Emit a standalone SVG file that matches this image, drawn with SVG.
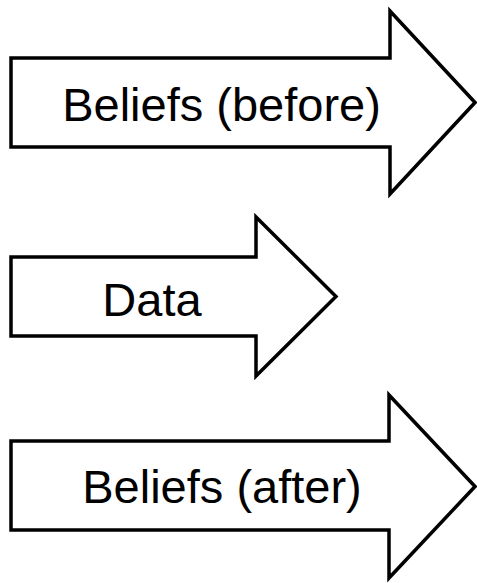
<svg xmlns="http://www.w3.org/2000/svg" width="477" height="583" viewBox="0 0 477 583">
<style>
.arrow{fill:#fff;stroke:#000;stroke-width:3.5;stroke-linejoin:miter;stroke-miterlimit:10}
.lbl{font-family:"Liberation Sans",Arial,sans-serif;font-size:47px;fill:#000;text-anchor:middle}
</style>
<rect width="477" height="583" fill="#fff"/>
<g id="beliefs-before">
<path class="arrow" d="M11,58 H390 V11 L475,102.5 L390,194 V147 H11 Z"/>
<text class="lbl" x="221.5" y="121">Beliefs (before)</text>
</g>
<g id="data">
<path class="arrow" d="M11,257 H256 V217 L336,296.5 L256,376 V336 H11 Z"/>
<text class="lbl" x="152" y="315.5">Data</text>
</g>
<g id="beliefs-after">
<path class="arrow" d="M11,441 H389 V395 L475,486.5 L389,578 V530 H11 Z"/>
<text class="lbl" x="222" y="503">Beliefs (after)</text>
</g>
<g id="connectors"/>
</svg>
